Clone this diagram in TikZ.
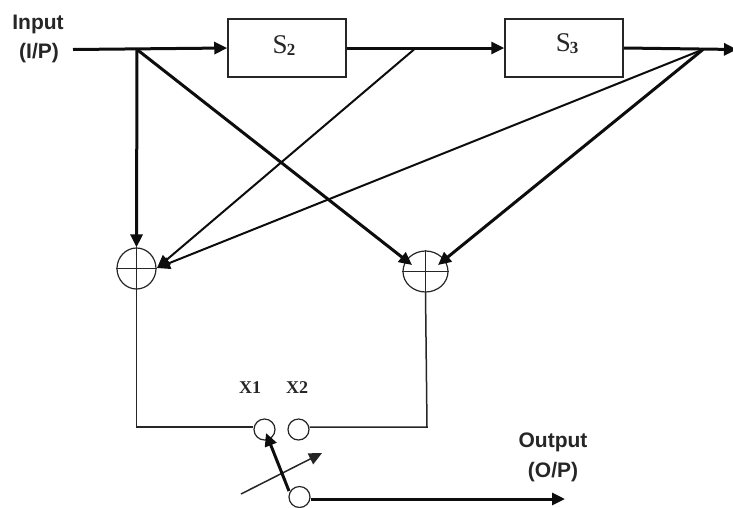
\documentclass[tikz,border=0pt]{standalone}
\usepackage{fontspec}
\setmainfont{Liberation Sans}
\newfontfamily\serifface{Liberation Serif}
\usetikzlibrary{arrows.meta,shapes.geometric}
\tikzset{
  wire/.style={line width=1.5pt,draw=black!85},
  thick wire/.style={line width=3pt,draw=black!95},
  mid wire/.style={line width=2pt,draw=black!95},
  tip/.style={-{Triangle[length=13pt,width=12pt]}},
  stagebox/.style={draw=black!85,line width=1.5pt,minimum width=118pt,minimum height=58pt,inner sep=0pt,fill=white},
  adder/.style={draw=black!85,line width=1.2pt,ellipse,inner sep=0pt},
  contact/.style={draw=black!85,line width=1.2pt,circle,minimum size=21pt,inner sep=0pt,fill=white},
  lab/.style={font=\bfseries\fontsize{21}{23}\selectfont,text=black!85,inner sep=0pt,align=center},
  stagelab/.style={font=\serifface\fontsize{27}{29}\selectfont,text=black!85},
  labx/.style={font=\serifface\bfseries\fontsize{18}{20}\selectfont,text=black!85,inner sep=0pt}
}
\begin{document}
\begin{tikzpicture}[x=1pt,y=-1pt]
\useasboundingbox (0,0) rectangle (733,507);
\node[stagebox] (s2) at (287,48) {};
\node[stagebox] (s3) at (564,48) {};
\node[stagelab] (s2l) at (284,46) {S\kern-1pt\raisebox{-2pt}{\fontsize{17}{17}\selectfont\bfseries 2}};
\node[stagelab] (s3l) at (567,44) {S\kern-1pt\raisebox{-2pt}{\fontsize{17}{17}\selectfont\bfseries 3}};
\node[adder,minimum width=39pt,minimum height=41pt] (a1) at (136.5,268.5) {};
\node[adder,minimum width=45pt,minimum height=41pt] (a2) at (425.5,271.5) {};
\draw[wire,line width=1.2pt] (a1.north) -- (a1.south);
\draw[wire,line width=1.2pt] (a1.west) -- (a1.east);
\draw[wire,line width=1.2pt] (a2.north) -- (a2.south);
\draw[wire,line width=1.2pt] (a2.west) -- (a2.east);
\coordinate (in) at (73,49.5);
\coordinate (b1) at (137,49.5);
\coordinate (b2) at (414,49.5);
\coordinate (b3) at (703,49.5);
\coordinate (outend) at (737,49.5);
\coordinate (t1) at (157,268);
\coordinate (t2) at (412,265);
\coordinate (t3) at (438,265);
\coordinate (l1) at (136.5,427);
\coordinate (l2) at (427,427);
\coordinate (k1) at (241,494);
\coordinate (k2) at (322,453);
\coordinate (k3) at (289,491);
\coordinate (k4) at (266,433);
\node[contact] (x1) at (264.5,429.5) {};
\node[contact] (x2) at (298.5,429.5) {};
\node[contact] (c) at (299.5,497) {};
\coordinate (oend) at (565,499);
\draw[thick wire,tip] (in) -- (s2.west);
\draw[thick wire,tip] (s2.east) -- (s3.west);
\draw[thick wire,tip] (s3.east) -- (outend);
\draw[thick wire,tip] (b1) -- (a1.north);
\draw[thick wire,tip] (b1) -- (t2);
\draw[mid wire,tip] (b2) -- (t1);
\draw[mid wire,tip] (b3) -- (t1);
\draw[thick wire,tip] (b3) -- (t3);
\draw[wire] (a1.south) -- (l1) -- (x1.west |- l1);
\draw[wire] (a2.south) -- (l2) -- (x2.east |- l2);
\draw[thick wire,tip] (c.east |- oend) -- (oend);
\draw[wire,tip] (k1) -- (k2);
\draw[thick wire,tip] (k3) -- (k4);
\node[lab] (il) at (38,24) {Input};
\node[lab] (ip) at (39,53) {(I/P)};
\node[labx] (x1l) at (250,388) {X1};
\node[labx] (x2l) at (297,388) {X2};
\node[lab] (ol) at (553,442) {Output};
\node[lab] (op) at (553,472) {(O/P)};
\end{tikzpicture}
\end{document}
